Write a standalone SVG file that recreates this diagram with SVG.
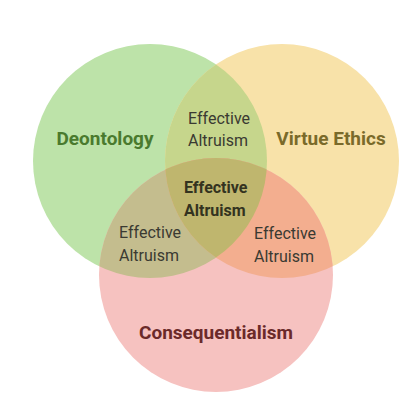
<svg xmlns="http://www.w3.org/2000/svg" width="419" height="408" viewBox="0 0 419 408">
<style>
.title{font-family:Roboto,"Liberation Sans",sans-serif;font-size:19px;font-weight:700;text-anchor:middle}
.ea{font-family:Roboto,"Liberation Sans",sans-serif;font-size:16px;fill:#3a3a32}
.eab{font-family:Roboto,"Liberation Sans",sans-serif;font-size:16px;font-weight:700;fill:#33331f}
</style>
<defs>
<circle id="cg" cx="150" cy="161" r="117"/>
<circle id="cy" cx="282" cy="161" r="117"/>
<circle id="cp" cx="216" cy="275" r="117"/>
<clipPath id="clipG"><use href="#cg"/></clipPath>
<clipPath id="clipY"><use href="#cy"/></clipPath>
<clipPath id="clipP"><use href="#cp"/></clipPath>
</defs>
<rect width="419" height="408" fill="#ffffff"/>
<g id="deontology">
<use href="#cg" fill="#bde3a9"/>
</g>
<g id="virtue-ethics">
<use href="#cy" fill="#f8e2a9"/>
</g>
<g id="consequentialism">
<use href="#cp" fill="#f6c2c0"/>
</g>
<g id="overlaps">
<g clip-path="url(#clipG)"><use href="#cy" fill="#c6d68c"/></g>
<g clip-path="url(#clipG)"><use href="#cp" fill="#c4bd8e"/></g>
<g clip-path="url(#clipY)"><use href="#cp" fill="#f3ae8f"/></g>
<g clip-path="url(#clipG)"><g clip-path="url(#clipY)"><use href="#cp" fill="#bfb66e"/></g></g>
</g>
<g id="labels">
<text class="title" x="105" y="145" fill="#4a7a2e">Deontology</text>
<text class="title" x="331" y="145" fill="#7a6a2a">Virtue Ethics</text>
<text class="title" x="216" y="339" fill="#6b2a2a">Consequentialism</text>
<text class="ea" x="188" y="124">Effective</text>
<text class="ea" x="188" y="146">Altruism</text>
<text class="eab" x="184" y="193">Effective</text>
<text class="eab" x="184" y="216">Altruism</text>
<text class="ea" x="119" y="238">Effective</text>
<text class="ea" x="119" y="261">Altruism</text>
<text class="ea" x="254" y="239">Effective</text>
<text class="ea" x="254" y="262">Altruism</text>
</g>
</svg>
